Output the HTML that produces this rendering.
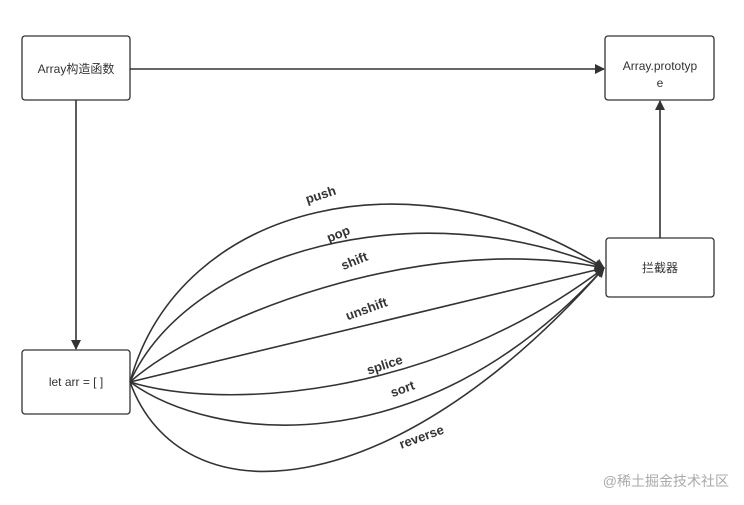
<!DOCTYPE html>
<html><head><meta charset="utf-8"><style>
html,body{margin:0;padding:0;background:#fff;}
svg{display:block}
text{font-family:"Liberation Sans","Noto Sans CJK SC",sans-serif;fill:#333;}
.l{font-weight:bold;font-size:13px;}
</style></head><body>
<svg width="744" height="505" viewBox="0 0 744 505" xmlns="http://www.w3.org/2000/svg">
<defs>
<marker id="a" markerWidth="10" markerHeight="10" refX="9" refY="5" orient="auto" markerUnits="userSpaceOnUse">
<path d="M0,0 L10,5 L0,10 z" fill="#333"/></marker>
</defs>
<g fill="#fff" stroke="#333" stroke-width="1.3">
<rect x="22" y="36" width="108" height="64" rx="3"/>
<rect x="605" y="36" width="109" height="64" rx="3"/>
<rect x="606" y="238" width="108" height="59" rx="3"/>
<rect x="22" y="350" width="108" height="64" rx="3"/>
</g>
<g stroke="#333" stroke-width="1.6" fill="none">
<line x1="130" y1="69" x2="604" y2="69" marker-end="url(#a)"/>
<line x1="76" y1="100" x2="76" y2="349" marker-end="url(#a)"/>
<line x1="660" y1="238" x2="660" y2="101" marker-end="url(#a)"/>
<path d="M130,382 C180,200 420,150 604,268" marker-end="url(#a)"/>
<path d="M130,382 C190,250 420,190 604,268" marker-end="url(#a)"/>
<path d="M130,382 C200,320 420,230 604,268" marker-end="url(#a)"/>
<path d="M130,382 L604,268" marker-end="url(#a)"/>
<path d="M130,382 C220,410 430,400 604,268" marker-end="url(#a)"/>
<path d="M130,382 C210,440 420,470 604,268" marker-end="url(#a)"/>
<path d="M130,382 C180,520 390,510 604,268" marker-end="url(#a)"/>
</g>
<text x="76" y="73" font-size="12" text-anchor="middle">Array构造函数</text>
<text x="660" y="70" font-size="12" text-anchor="middle">Array.prototyp</text>
<text x="660" y="87" font-size="12" text-anchor="middle">e</text>
<text x="660" y="272" font-size="12" text-anchor="middle">拦截器</text>
<text x="76" y="386" font-size="12" text-anchor="middle">let arr = [ ]</text>
<text class="l" x="322" y="199" text-anchor="middle" transform="rotate(-18 322 199)">push</text>
<text class="l" x="340" y="238" text-anchor="middle" transform="rotate(-22 340 238)">pop</text>
<text class="l" x="356" y="265" text-anchor="middle" transform="rotate(-22 356 265)">shift</text>
<text class="l" x="368" y="313" text-anchor="middle" transform="rotate(-20 368 313)">unshift</text>
<text class="l" x="386" y="369" text-anchor="middle" transform="rotate(-18 386 369)">splice</text>
<text class="l" x="404" y="393" text-anchor="middle" transform="rotate(-20 404 393)">sort</text>
<text class="l" x="423" y="441" text-anchor="middle" transform="rotate(-20 423 441)">reverse</text>
<text x="729" y="486" font-size="14" text-anchor="end" style="fill:#aaa">@稀土掘金技术社区</text>
</svg>
</body></html>
